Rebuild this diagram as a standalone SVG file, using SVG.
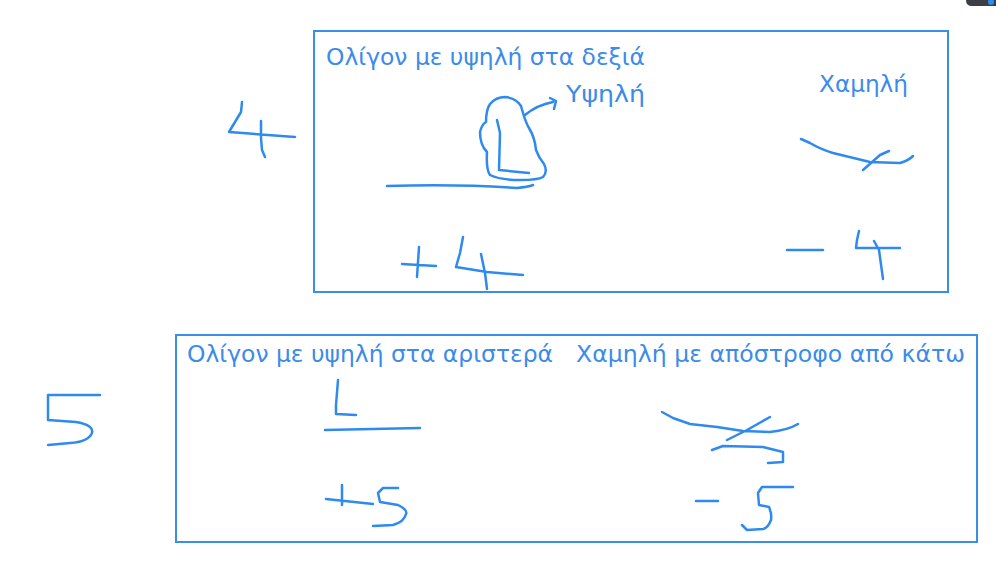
<svg xmlns="http://www.w3.org/2000/svg" width="996" height="561" viewBox="0 0 996 561">
<style>
.s{fill:none;stroke:#2f8af0;stroke-width:2.5;stroke-linecap:round;stroke-linejoin:round}
.b{fill:none;stroke:#3b8ee8;stroke-width:2}
.t{fill:#3b8bea;font-family:"DejaVu Sans",sans-serif;font-size:23px}
</style>
<rect width="996" height="561" fill="#fff"/>
<path d="M966,0 H996 V6 H972 Q966,6 966,0 Z" fill="#3b3f44"/>
<circle cx="991" cy="2" r="3" fill="#2f8af0"/>
<g id="box-top">
<rect class="b" x="314" y="31" width="634" height="261"/>
<text class="t" x="326" y="65" textLength="319" lengthAdjust="spacingAndGlyphs">Ολίγον με υψηλή στα δεξιά</text>
<text class="t" x="566" y="102" textLength="79" lengthAdjust="spacingAndGlyphs">Υψηλή</text>
<text class="t" x="819" y="92" textLength="89" lengthAdjust="spacingAndGlyphs">Χαμηλή</text>
</g>
<g id="box-bottom">
<rect class="b" x="176" y="335" width="801" height="207"/>
<text class="t" x="187" y="362" textLength="366" lengthAdjust="spacingAndGlyphs">Ολίγον με υψηλή στα αριστερά</text>
<text class="t" x="576" y="362" textLength="389" lengthAdjust="spacingAndGlyphs">Χαμηλή με απόστροφο από κάτω</text>
</g>
<g id="strokes">
<path class="s" d="M242,102 L241,112 L229,132 L295,137 M261,121 L261,138 L262,150 L265,157"/>
<path class="s" d="M387,186 Q460,184 517,188 Q528,187 533,185"/>
<path class="s" d="M497,120 L500,133 L499,170 L529,173"/>
<path class="s" d="M523,113 Q526,123 529,128 Q535,138 536,150 Q539,158 544,164 Q548,172 543,177 Q538,180 520,180 Q500,180 490,175 Q486,170 487,152 Q480,145 480,132 Q482,124 486,122 Q486,110 490,104 Q496,97 505,97 Q516,98 521,106 Z"/>
<path class="s" d="M525,115 Q537,105 553,102 M550,98 L556,101 L554,109"/>
<path class="s" d="M801,139 L810,143 Q820,149 833,153 L870,162 L900,163 Q908,161 913,156 M863,170 L880,155 L889,151"/>
<path class="s" d="M402,264 L436,266 M419,247 L417,277"/>
<path class="s" d="M463,237 L460,253 L456,267 L487,272 L523,275 M481,254 L485,273 L487,289"/>
<path class="s" d="M787,250 L823,250"/>
<path class="s" d="M859,231 L857,240 L856,248 L900,248 M874,241 L879,250 L883,279"/>
<path class="s" d="M100,395 L48,395 L48,420 L76,422 Q94,425 92,433 Q88,442 70,443 L48,445"/>
<path class="s" d="M338,380 L336,405 L336,414 L356,415 M325,430 L420,428"/>
<path class="s" d="M662,412 L673,418 L690,424 L717,427 L743,431 L770,432 Q788,430 798,424 M727,440 L747,430 L770,417"/>
<path class="s" d="M712,450 L723,446 L763,447 L783,452 L783,462 L768,463"/>
<path class="s" d="M326,499 L373,504 M342,485 L342,505"/>
<path class="s" d="M398,488 L383,488 L378,493 L380,502 L398,505 Q408,510 406,514 Q404,522 393,525 L373,526"/>
<path class="s" d="M696,501 L718,501"/>
<path class="s" d="M793,487 L762,487 L758,493 L759,505 L769,507 Q772,514 771,520 Q768,528 763,529 L747,530 L742,525"/>
</g>
</svg>
